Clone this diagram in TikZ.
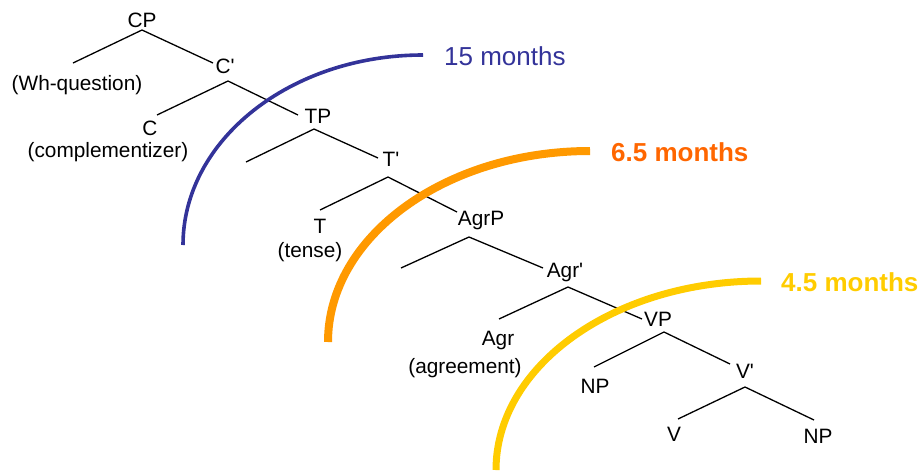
\documentclass[tikz,border=0pt]{standalone}
\usepackage{fontspec}
\setmainfont{Liberation Sans}
\definecolor{cblue}{HTML}{333399}
\definecolor{corange}{HTML}{FF9900}
\definecolor{corangetxt}{HTML}{FF6600}
\definecolor{cyellow}{HTML}{FFCC00}
\tikzset{
  lab/.style={anchor=base,inner sep=0pt,font=\fontsize{20.8}{24}\selectfont},
  age/.style={anchor=base west,inner sep=0pt,font=\fontsize{26}{30}\selectfont},
  branch/.style={line width=1.3pt,black},
  band/.style={line cap=butt}
}
\begin{document}
\begin{tikzpicture}[x=1pt,y=-1pt]
\useasboundingbox (0,0) rectangle (920,472);
% labels
\node[lab] (CP) at (142,27) {CP};
\node[lab] (wh) at (77,90) {(Wh-question)};
\node[lab] (Cb) at (225,73) {C\textquotesingle};
\node[lab] (C) at (150,135) {C};
\node[lab] (comp) at (108,157) {(complementizer)};
\node[lab] (TP) at (318,123) {TP};
\node[lab] (Tb) at (391,166) {T\textquotesingle};
\node[lab] (T) at (320,233) {T};
\node[lab] (tense) at (310,257) {(tense)};
\node[lab] (AgrP) at (481,225) {AgrP};
\node[lab] (Agrb) at (565,277) {Agr\textquotesingle};
\node[lab] (Agr) at (498,345) {Agr};
\node[lab] (agr) at (465,373) {(agreement)};
\node[lab] (VP) at (658,326) {VP};
\node[lab] (NPa) at (595,393) {NP};
\node[lab] (Vb) at (745,378) {V\textquotesingle};
\node[lab] (V) at (674,441) {V};
\node[lab] (NPb) at (818,443) {NP};
% branch points
\coordinate (cpA) at (142,30);  \coordinate (cpL) at (73,63);   \coordinate (cpR) at (213,63);
\coordinate (cbA) at (228,81);  \coordinate (cbL) at (157,115); \coordinate (cbR) at (298,115);
\coordinate (tpA) at (314,129); \coordinate (tpL) at (246,162); \coordinate (tpR) at (378,158);
\coordinate (tbA) at (388,177); \coordinate (tbL) at (320,210); \coordinate (tbR) at (457,212);
\coordinate (apA) at (469,237); \coordinate (apL) at (401,268); \coordinate (apR) at (543,268);
\coordinate (abA) at (568,287); \coordinate (abL) at (499,319); \coordinate (abR) at (642,319);
\coordinate (vpA) at (664,332); \coordinate (vpL) at (594,367); \coordinate (vpR) at (730,364);
\coordinate (vbA) at (745,387); \coordinate (vbL) at (678,419); \coordinate (vbR) at (814,420);
\draw[branch] (cpL) -- (cpA) -- (cpR);
\draw[branch] (cbL) -- (cbA) -- (cbR);
\draw[branch] (tpL) -- (tpA) -- (tpR);
\draw[branch] (tbL) -- (tbA) -- (tbR);
\draw[branch] (apL) -- (apA) -- (apR);
\draw[branch] (abL) -- (abA) -- (abR);
\draw[branch] (vpL) -- (vpA) -- (vpR);
\draw[branch] (vbL) -- (vbA) -- (vbR);
% age arcs
\coordinate (b0) at (183,245); \coordinate (b1) at (423,55);
\coordinate (o0) at (328,342); \coordinate (o1) at (590,151);
\coordinate (y0) at (496,470); \coordinate (y1) at (761,281);
\draw[band,cblue,line width=3.6pt] (b0) .. controls (183,140.1) and (290.4,55) .. (b1);
\draw[band,corange,line width=8pt] (o0) .. controls (328,236.5) and (445.3,151) .. (o1);
\draw[band,cyellow,line width=7pt] (y0) .. controls (496,365.6) and (614.6,281) .. (y1);
\node[age,text=cblue] (m15) at (444,65) {15 months};
\node[age,text=corangetxt] (m65) at (611,161) {\bfseries 6.5 months};
\node[age,text=cyellow] (m45) at (781,291) {\bfseries 4.5 months};
\end{tikzpicture}
\end{document}
